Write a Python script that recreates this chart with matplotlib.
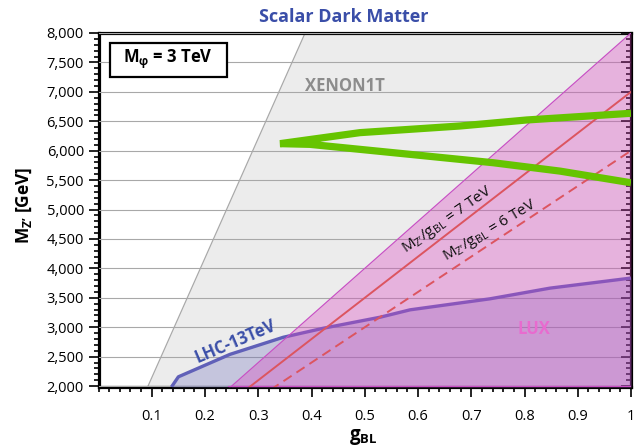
import matplotlib
matplotlib.use('Agg')
import matplotlib.pyplot as plt
import matplotlib.lines as mlines
import numpy as np
from matplotlib.ticker import MultipleLocator, FuncFormatter, FixedLocator
from matplotlib.patches import Rectangle

plt.rcParams['font.family'] = ['Open Sans', 'DejaVu Sans']
plt.rcParams['mathtext.fontset'] = 'custom'
plt.rcParams['mathtext.rm'] = 'Open Sans'
plt.rcParams['mathtext.it'] = 'Open Sans:italic'
plt.rcParams['mathtext.bf'] = 'Open Sans:bold'

# ---- data ----
xenon_g = [0.0905, 0.388]
xenon_m = [1950, 8000]

lux_g = [0.24375, 1.0]
lux_m = [1950, 8000]

lhc_g = [0.137, 0.150, 0.247, 0.347, 0.422, 0.529, 0.585, 0.735, 0.848, 1.0]
lhc_m = [1985, 2158, 2540, 2830, 2983, 3171, 3296, 3483, 3665, 3836]

green_g = [1.0, 0.804, 0.679, 0.491, 0.341, 0.397, 0.585, 0.741, 0.867, 1.0]
green_m = [6636, 6522, 6420, 6307, 6120, 6108, 5938, 5796, 5653, 5455]

ratio_solid = 7000   # M_Z'/g_BL = 7 TeV
ratio_dashed = 6000  # M_Z'/g_BL = 6 TeV
ratio_g = [0.25, 1.0]

x_ticks = [0.1, 0.2, 0.3, 0.4, 0.5, 0.6, 0.7, 0.8, 0.9, 1.0]
y_ticks = [2000, 2500, 3000, 3500, 4000, 4500, 5000, 5500, 6000, 6500, 7000, 7500, 8000]

# ---- figure ----
W, H = 642, 448
fig = plt.figure(figsize=(W / 100, H / 100), dpi=100)
ax = fig.add_axes([98.5 / W, 1 - 387 / H, (631 - 98.5) / W, (387 - 33) / H])
ymin, ymax = 1985, 8000
ax.set_xlim(0, 1)
ax.set_ylim(ymin, ymax)

# XENON1T region (gray)
xg = np.array(xenon_g); xm = np.array(xenon_m)
ax.fill_betweenx(xm, xg, 1.0, color='#ececec', lw=0, zorder=1)
ax.plot(xg, xm, color='#a9a9a9', lw=0.9, zorder=1.5)

# grid
ax.yaxis.set_major_locator(FixedLocator(y_ticks))
ax.yaxis.grid(True, color='#a8a8a8', lw=0.8, zorder=2)
ax.set_axisbelow(False)

# LHC region
lg = np.array(lhc_g); lm = np.array(lhc_m)
ax.fill_between(lg, lm, ymin, color='#6060b8', alpha=0.28, lw=0, zorder=3)
ax.plot(lg, lm, color='#6060b8', lw=2.4, zorder=3.5, solid_capstyle='butt')

# LUX label (under the translucent fill)
ax.text(0.818, 2967, 'LUX', color='#f07fd8', fontsize=12, fontweight='bold',
        ha='center', va='center', zorder=3.8)

# LUX region (translucent magenta)
ug = np.array(lux_g); um = np.array(lux_m)
ax.fill_between(ug, um, ymin, color='#db46c1', alpha=0.35, lw=0, zorder=4)
ax.plot(ug, um, color='#c94fc4', lw=0.9, zorder=4.5)
ax.plot([ug[0], 1.0], [um[0] + 45, um[0] + 45], color='#c94fc4', lw=0.9, zorder=4.5)

# ratio lines
rg = np.array(ratio_g)
ax.plot(rg, ratio_solid * rg, color='#dc5560', lw=1.4, zorder=6)
ax.plot(rg, ratio_dashed * rg, color='#dc5560', lw=1.4, ls=(0, (5, 3)), zorder=6)

# green curve
ax.plot(green_g, green_m, color='#66c400', lw=5.2, zorder=7,
        solid_capstyle='butt', solid_joinstyle='miter')

# texts in plot
ax.text(0.463, 7097, 'XENON1T', color='#8c8c8c', fontsize=12, fontweight='bold',
        ha='center', va='center', zorder=8)
ax.text(0.256, 2755, 'LHC-13TeV', color='#3a4ea8', fontsize=12, fontweight='bold',
        ha='center', va='center', rotation=23, zorder=8)
ax.text(0.655, 4816, r"$\mathrm{M_{Z’}/g_{BL}}$ = 7 TeV", color='#111111', fontsize=11,
        ha='center', va='center', rotation=35, zorder=8)
ax.text(0.735, 4630, r"$\mathrm{M_{Z’}/g_{BL}}$ = 6 TeV", color='#111111', fontsize=11,
        ha='center', va='center', rotation=31, zorder=8)

# box label
ax.add_patch(Rectangle((0.0216, 0.8766), 0.2191, 0.096, transform=ax.transAxes,
                       fc='white', ec='black', lw=1.6, zorder=9))
ax.text(0.131, 0.9246, r"$\mathbf{M_{φ}}$ = 3 TeV", transform=ax.transAxes,
        fontsize=12, fontweight='bold', ha='center', va='center', zorder=10)

# ticks
ax.xaxis.set_major_locator(FixedLocator(x_ticks))
ax.xaxis.set_minor_locator(MultipleLocator(0.02))
ax.yaxis.set_minor_locator(MultipleLocator(100))
ax.xaxis.set_major_formatter(FuncFormatter(lambda v, p: f"{v:g}"))
ax.yaxis.set_major_formatter(FuncFormatter(lambda v, p: f"{int(round(v)):,}"))
ax.tick_params(axis='both', which='major', direction='out', length=7.5, width=1.2,
               labelsize=10.5, colors='black', pad=3)
ax.tick_params(axis='both', which='minor', direction='out', length=3.8, width=1.2)
ax.tick_params(axis='x', which='major', pad=8)
ax.tick_params(axis='x', which='both', top=False)
ax.tick_params(axis='y', which='both', right=True, labelright=False)

for s in ax.spines.values():
    s.set_linewidth(2.3)

# right-side ticks point inward
fig.canvas.draw()
for t in ax.yaxis.get_major_ticks() + ax.yaxis.get_minor_ticks():
    t.tick2line.set_marker(mlines.TICKLEFT)

# titles/labels
fig.text(343.5 / W, 1 - 17 / H, 'Scalar Dark Matter', color='#3a4ea8', fontsize=13,
         fontweight='bold', ha='center', va='center')
fig.text(24 / W, 1 - 205 / H, r"$\mathbf{M_{Z’}}$ [GeV]", fontsize=12.5, fontweight='bold',
         rotation=90, ha='center', va='center')
fig.text(363 / W, 1 - 437 / H, r"$\mathbf{g_{BL}}$", fontsize=13.5,
         ha='center', va='center')

fig.savefig('out.png', dpi=100)
